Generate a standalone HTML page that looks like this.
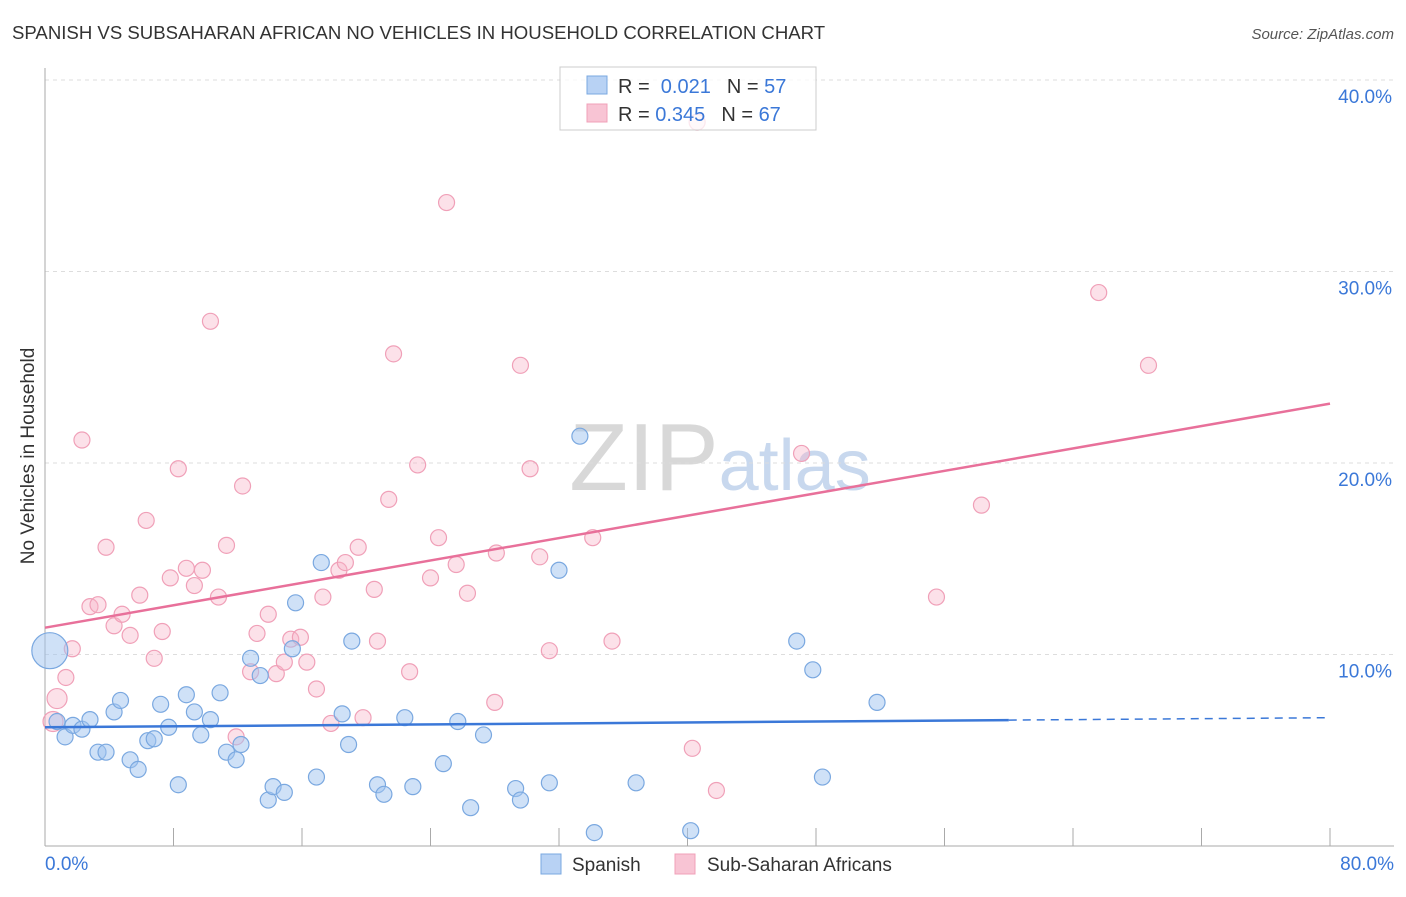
<!DOCTYPE html>
<html><head><meta charset="utf-8"><style>
body{margin:0;background:#fff;font-family:"Liberation Sans",sans-serif;}
svg text{font-family:"Liberation Sans",sans-serif;}
</style></head><body>
<svg id="chart" width="1406" height="892" xmlns="http://www.w3.org/2000/svg">
<text x="12" y="39" font-size="18.6" fill="#333">SPANISH VS SUBSAHARAN AFRICAN NO VEHICLES IN HOUSEHOLD CORRELATION CHART</text>
<text x="1394" y="39" font-size="15" fill="#555" font-style="italic" text-anchor="end">Source: ZipAtlas.com</text>
<text transform="translate(34,456) rotate(-90)" font-size="19" fill="#333" text-anchor="middle">No Vehicles in Household</text>
<text x="720" y="490" font-size="96" text-anchor="middle" fill="#ddd" font-family="Liberation Serif"><tspan fill="#d8d8d8">ZIP</tspan><tspan fill="#c8d8ee" font-family="Liberation Sans" font-size="72">atlas</tspan></text>
<g id="grid"></g><g id="axes"></g><g id="pts"></g><g id="lines"></g>
<g>
<rect x="560" y="67" width="256" height="63" fill="#fff" fill-opacity="0.75" stroke="#ccc"/>
<rect x="587" y="76" width="20" height="18" fill="#b8d2f4" stroke="#7aa8e0"/>
<rect x="587" y="104" width="20" height="18" fill="#f8c4d4" stroke="#f0a0b8"/>
<text x="618" y="93" font-size="20" fill="#333">R = <tspan fill="#3b78d8">&#160;0.021</tspan><tspan fill="#333" dx="16">N = </tspan><tspan fill="#3b78d8">57</tspan></text>
<text x="618" y="121" font-size="20" fill="#333">R = <tspan fill="#3b78d8">0.345</tspan><tspan fill="#333" dx="16">N = </tspan><tspan fill="#3b78d8">67</tspan></text>
</g>
<g>
<rect x="541" y="854" width="20" height="20" fill="#b8d2f4" stroke="#7aa8e0"/>
<text x="572" y="871" font-size="19" fill="#333">Spanish</text>
<rect x="675" y="854" width="20" height="20" fill="#f8c4d4" stroke="#f0a0b8"/>
<text x="707" y="871" font-size="19" fill="#333">Sub-Saharan Africans</text>
</g>
</svg>
<script>
const xTicks=[0,8,16,24,32,40,48,56,64,72,80];
const yTicks=[10,20,30,40];
const spanishX=[0.3,0.75,1.25,1.74,2.3,2.8,3.3,3.8,4.3,4.7,5.3,5.8,6.4,6.8,7.2,7.7,8.3,8.8,9.3,9.7,10.3,10.9,11.3,11.9,12.2,12.8,13.4,13.9,14.2,14.9,15.4,15.6,16.9,17.2,18.5,18.9,19.1,20.7,21.1,22.4,22.9,24.8,25.7,26.5,27.3,29.3,29.6,31.4,32.0,33.3,34.2,36.8,40.2,46.8,47.8,48.4,51.8];
const spanishY=[10.2,6.5,5.7,6.3,6.1,6.6,4.9,4.9,7.0,7.6,4.5,4.0,5.5,5.6,7.4,6.2,3.2,7.9,7.0,5.8,6.6,8.0,4.9,4.5,5.3,9.8,8.9,2.4,3.1,2.8,10.3,12.7,3.6,14.8,6.9,5.3,10.7,3.2,2.7,6.7,3.1,4.3,6.5,2.0,5.8,3.0,2.4,3.3,14.4,21.4,0.7,3.3,0.8,10.7,9.2,3.6,7.5];
const subX=[0.5,0.75,1.3,1.7,2.3,2.8,3.3,3.8,4.3,4.8,5.3,5.9,6.3,6.8,7.3,7.8,8.3,8.8,9.3,9.8,10.3,10.8,11.3,11.9,12.3,12.8,13.2,13.9,14.4,14.9,15.3,15.9,16.3,16.9,17.3,17.8,18.3,18.7,19.5,19.8,20.5,20.7,21.4,21.7,22.7,23.2,24.0,24.5,25.0,25.6,26.3,28.0,28.1,29.6,30.2,30.8,31.4,34.1,35.3,40.6,40.3,41.8,47.1,55.5,58.3,65.6,68.7];
const subY=[6.5,7.7,8.8,10.3,21.2,12.5,12.6,15.6,11.5,12.1,11.0,13.1,17.0,9.8,11.2,14.0,19.7,14.5,13.6,14.4,27.4,13.0,15.7,5.7,18.8,9.1,11.1,12.1,9.0,9.6,10.8,10.9,9.6,8.2,13.0,6.4,14.4,14.8,15.6,6.7,13.4,10.7,18.1,25.7,9.1,19.9,14.0,16.1,33.6,14.7,13.2,7.5,15.3,25.1,19.7,15.1,10.2,16.1,10.7,37.8,5.1,2.9,20.5,13.0,17.8,28.9,25.1];
const spanishTrend=[6.2,6.7];
const subTrend=[11.4,23.1];
const NS="http://www.w3.org/2000/svg";
const X=v=>45+v/80*1285, Y=v=>846-v*19.15;
function mk(t,a,p){const e=document.createElementNS(NS,t);for(const k in a)e.setAttribute(k,a[k]);document.getElementById(p).appendChild(e);return e;}
yTicks.forEach(v=>{
 const l=mk('line',{x1:45,x2:1394,y1:Y(v),y2:Y(v),stroke:'#ddd','stroke-dasharray':'4,4'},'grid');
 
 
 const t=mk('text',{x:1392,y:Y(v)+23,'font-size':19,fill:'#3b78d8','text-anchor':'end'},'grid');t.textContent=v.toFixed(1)+'%';
 
 
});
mk('line',{x1:45,x2:45,y1:68,y2:846,stroke:'#aaa'},'axes');
mk('line',{x1:45,x2:1394,y1:846,y2:846,stroke:'#aaa'},'axes');
xTicks.forEach(v=>{const l=mk('line',{x1:X(v),x2:X(v),y1:828,y2:846,stroke:'#aaa'},'axes');
 
 });
const t0=mk('text',{x:45,y:870,'font-size':19,fill:'#3b78d8'},'axes');t0.textContent='0.0%';


const t1=mk('text',{x:1394,y:870,'font-size':19,fill:'#3b78d8','text-anchor':'end'},'axes');t1.textContent='80.0%';


subX.forEach((x,i)=>{const c=mk('circle',{cx:X(x),cy:Y(subY[i]),r:i<2?10:8,fill:'rgba(248,180,200,0.4)',stroke:'#f0a0b8','stroke-width':1.2},'pts');
 
 });
spanishX.forEach((x,i)=>{const c=mk('circle',{cx:X(x),cy:Y(spanishY[i]),r:i==0?18:8,fill:'rgba(160,196,240,0.5)',stroke:'#7aa8e0','stroke-width':1.2},'pts');
 
 });
const pl=mk('line',{x1:X(0),y1:Y(subTrend[0]),x2:X(80),y2:Y(subTrend[1]),stroke:'#e8709a','stroke-width':2.5},'lines');


const bv=x=>spanishTrend[0]+(spanishTrend[1]-spanishTrend[0])*x/80;
const bl=mk('line',{x1:X(0),y1:Y(bv(0)),x2:X(60),y2:Y(bv(60)),stroke:'#3b78d8','stroke-width':2.5},'lines');


const bd=mk('line',{x1:X(60),y1:Y(bv(60)),x2:X(80),y2:Y(bv(80)),stroke:'#3b78d8','stroke-width':1.5,'stroke-dasharray':'8,6'},'lines');


</script>
</body></html>
